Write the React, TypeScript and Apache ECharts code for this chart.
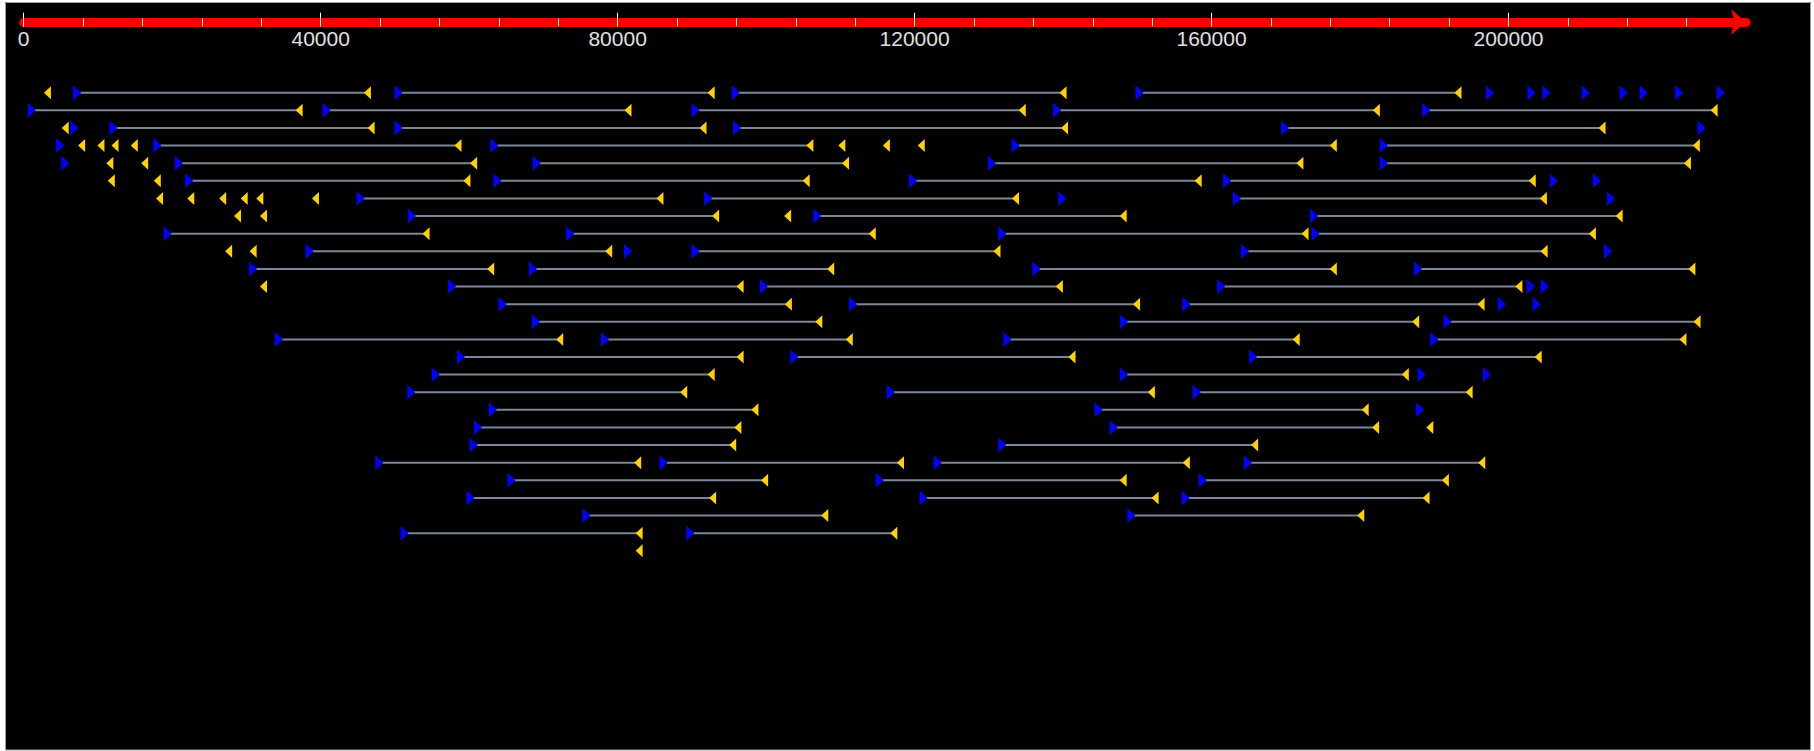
import React, { useEffect, useRef } from "react";
import * as echarts from "echarts";

// [row, start, end] intervals drawn as blue start -> grey line -> yellow end
const segments: [number, number, number][] = [
  [1, 7200, 46300], [1, 50500, 92600], [1, 95900, 140000], [1, 150300, 193200],
  [2, 1100, 37100], [2, 40800, 81400], [2, 90500, 134500], [2, 139200, 182200], [2, 188900, 227700],
  [3, 12100, 46800], [3, 50500, 91500], [3, 96100, 140200], [3, 169900, 212600],
  [4, 18000, 58500], [4, 63400, 105900], [4, 133600, 176400], [4, 183200, 225300],
  [5, 20900, 60600], [5, 69100, 110700], [5, 130400, 171900], [5, 183200, 224100],
  [6, 22300, 59700], [6, 63800, 105400], [6, 119800, 158200], [6, 162100, 203200],
  [7, 45400, 85700], [7, 92200, 133600], [7, 163400, 204700],
  [8, 52300, 93200], [8, 106900, 148100], [8, 173800, 214900],
  [9, 19400, 54200], [9, 73600, 114300], [9, 131800, 172600], [9, 174000, 211300],
  [10, 38500, 78800], [10, 90500, 131100], [10, 164500, 204800],
  [11, 30900, 62900], [11, 68600, 108700], [11, 136400, 176400], [11, 187800, 224700],
  [12, 57700, 96500], [12, 99700, 139500], [12, 161300, 201400],
  [13, 64500, 103000], [13, 111700, 149900], [13, 156600, 196300],
  [14, 69000, 107100], [14, 148200, 187500], [14, 191800, 225400],
  [15, 34400, 72200], [15, 78300, 111200], [15, 132500, 171400], [15, 190000, 223500],
  [16, 58900, 96500], [16, 103800, 141200], [16, 165600, 204000],
  [17, 55500, 92600], [17, 148200, 186100],
  [18, 52200, 88900], [18, 116800, 151900], [18, 158000, 194700],
  [19, 63200, 98500], [19, 144800, 180700],
  [20, 61200, 96200], [20, 146800, 182100],
  [21, 60600, 95500], [21, 131800, 165800],
  [22, 47900, 82700], [22, 86200, 118100], [22, 123100, 156600], [22, 164900, 196400],
  [23, 65700, 99800], [23, 115300, 148100], [23, 158800, 191500],
  [24, 60200, 92800], [24, 121200, 152400], [24, 156500, 188900],
  [25, 75800, 107900], [25, 149200, 180100],
  [26, 51300, 82900], [26, 89800, 117200],
];

// [row, position] starts without a matching end
const openStarts: [number, number][] = [
  [1, 197500], [1, 203100], [1, 205100], [1, 210400], [1, 215500], [1, 218200], [1, 223000], [1, 228600],
  [3, 6800], [3, 226000],
  [4, 4900],
  [5, 5600],
  [6, 206100], [6, 211900],
  [7, 139900], [7, 213800],
  [10, 81400], [10, 213400],
  [12, 203000], [12, 204900],
  [13, 199100], [13, 203800],
  [17, 188300], [17, 197100],
  [19, 188100],
];

// [row, position] ends without a matching start
const openEnds: [number, number][] = [
  [1, 3200],
  [3, 5600],
  [4, 7800], [4, 10400], [4, 12300], [4, 14900], [4, 110200], [4, 116200], [4, 120900],
  [5, 11600], [5, 16300],
  [6, 11800], [6, 18000],
  [7, 18300], [7, 22500], [7, 26800], [7, 29700], [7, 31800], [7, 39300],
  [8, 28800], [8, 32300], [8, 102900],
  [10, 27600], [10, 30900],
  [12, 32300],
  [20, 189400],
  [27, 82900],
];

const axisMin = 0;
const axisMax = 232000;
const majorStep = 40000;
const majorMax = 200000;
const minorStep = 8000;
const minorMax = 224000;
const rowCount = 27;

export default function App() {
  const ref = useRef<HTMLDivElement>(null);

  useEffect(() => {
    document.body.style.margin = "0";
    if (!ref.current) return;
    const chart = echarts.init(ref.current, undefined, { renderer: "svg" });

    const W = 1814;
    const left = 23.7;
    const pxPerUnit = 0.007424;
    const rightFor = (max: number) => W - left - (max - axisMin) * pxPerUnit;
    const rowPitch = 17.62;
    const firstRowY = 92.7;

    const starts = [
      ...segments.map(([r, s]) => [s, r]),
      ...openStarts.map(([r, x]) => [x, r]),
    ];
    const ends = [
      ...segments.map(([r, , e]) => [e, r]),
      ...openEnds.map(([r, x]) => [x, r]),
    ];

    const hiddenY = (gridIndex: number) => ({
      type: "value", gridIndex, min: 0, max: 1, show: false,
    });

    chart.setOption({
      animation: false,
      backgroundColor: "#000000",
      grid: [
        { left, right: rightFor(axisMax), top: 22, height: 10 },
        { left, right: rightFor(minorMax), top: 26.2, height: 10 },
        { left, right: rightFor(majorMax), top: 26.7, height: 10 },
        { left, right: rightFor(axisMax), top: firstRowY - rowPitch, height: rowPitch * (rowCount + 1) },
      ],
      xAxis: [
        {
          type: "value", gridIndex: 0, position: "top", min: axisMin, max: axisMax,
          axisLine: {
            show: true, onZero: false, symbol: ["none", "arrow"], symbolSize: [19, 15],
            lineStyle: { color: "#ff0000", width: 9 },
          },
          axisTick: { show: false }, axisLabel: { show: false }, splitLine: { show: false },
        },
        {
          type: "value", gridIndex: 1, position: "top", min: axisMin, max: minorMax, interval: minorStep,
          axisLine: { show: false, onZero: false },
          axisTick: { show: true, length: 8, lineStyle: { color: "#ffffff", width: 1 } },
          axisLabel: { show: false }, splitLine: { show: false }, z: 5,
        },
        {
          type: "value", gridIndex: 2, position: "top", min: axisMin, max: majorMax, interval: majorStep,
          axisLine: { show: false, onZero: false },
          axisTick: { show: true, length: 14, lineStyle: { color: "#ffffff", width: 1 } },
          axisLabel: {
            show: true, inside: true, margin: 1, color: "#e0e0e0",
            fontFamily: "Liberation Sans, Arial, sans-serif", fontSize: 21,
            formatter: (v: number) => String(v),
          },
          splitLine: { show: false }, z: 5,
        },
        {
          type: "value", gridIndex: 3, min: axisMin, max: axisMax, show: false,
          axisLine: { onZero: false },
        },
      ],
      yAxis: [
        hiddenY(0), hiddenY(1), hiddenY(2),
        { type: "value", gridIndex: 3, min: 0, max: rowCount + 1, inverse: true, show: false },
      ],
      graphic: [
        { type: "rect", z: 100, shape: { x: 0, y: 0, width: W, height: 2 }, style: { fill: "#ffffff" } },
        { type: "rect", z: 100, shape: { x: 0, y: 0, width: 5, height: 751 }, style: { fill: "#ffffff" } },
        { type: "rect", z: 100, shape: { x: 1811, y: 0, width: 3, height: 751 }, style: { fill: "#ffffff" } },
        { type: "rect", z: 100, shape: { x: 0, y: 750, width: W, height: 1 }, style: { fill: "#ffffff" } },
        {
          type: "rect", z: 101,
          shape: { x: 5.5, y: 2.5, width: 1805, height: 747.5 },
          style: { fill: "none", stroke: "#a0a0a0", lineWidth: 1 },
        },
      ],
      series: [
        {
          type: "custom",
          xAxisIndex: 3,
          yAxisIndex: 3,
          data: segments.map(([r, s, e]) => [s, e, r]),
          encode: { x: [0, 1], y: 2 },
          z: 2,
          renderItem: (params: any, api: any) => {
            const p1 = api.coord([api.value(0), api.value(2)]);
            const p2 = api.coord([api.value(1), api.value(2)]);
            return {
              type: "line",
              shape: { x1: p1[0], y1: p1[1], x2: p2[0], y2: p2[1] },
              style: { stroke: "#7d8896", lineWidth: 2 },
            };
          },
        },
        {
          type: "scatter",
          xAxisIndex: 3,
          yAxisIndex: 3,
          data: starts,
          symbol: "path://M0,0L10,6L0,12Z",
          symbolSize: [8, 15],
          itemStyle: { color: "#0000ff", opacity: 1 },
          z: 3,
        },
        {
          type: "scatter",
          xAxisIndex: 3,
          yAxisIndex: 3,
          data: ends,
          symbol: "path://M10,0L0,6L10,12Z",
          symbolSize: [7, 13],
          itemStyle: { color: "#ffd200", opacity: 1 },
          z: 4,
        },
      ],
    });

    return () => chart.dispose();
  }, []);

  return <div ref={ref} style={{ width: 1814, height: 751 }} />;
}
